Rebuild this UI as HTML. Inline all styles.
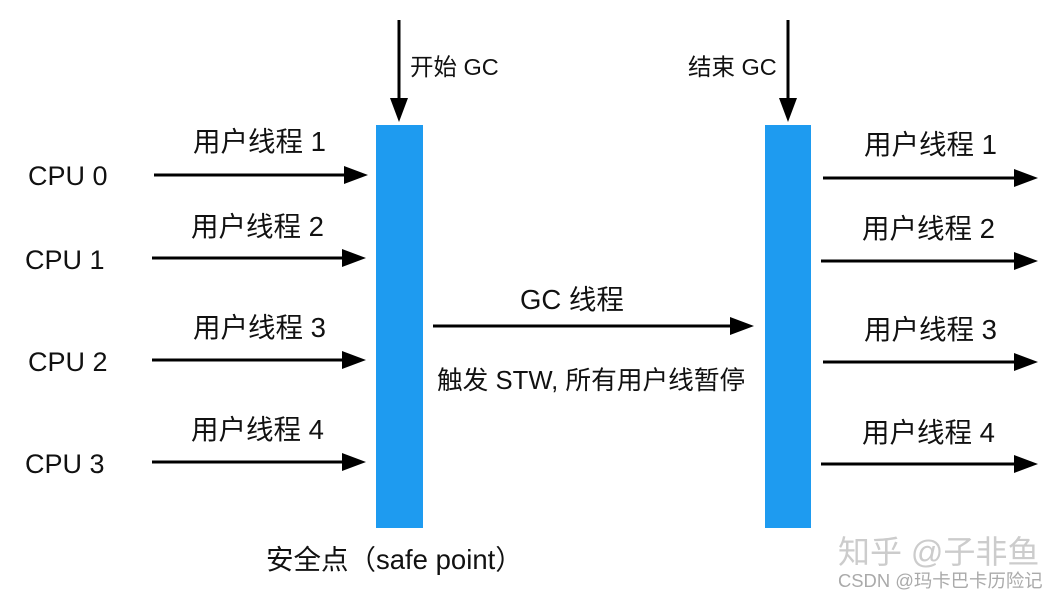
<!DOCTYPE html>
<html><head><meta charset="utf-8"><style>
html,body{margin:0;padding:0;background:#fff;}
svg text{font-family:"Liberation Sans","Noto Sans CJK SC",sans-serif;fill:#111;}
</style></head><body>
<svg width="1064" height="600" xmlns="http://www.w3.org/2000/svg">
<defs><marker id="a" markerWidth="8" markerHeight="6" refX="0" refY="3" orient="auto" markerUnits="strokeWidth"><path d="M0,0 L8,3 L0,6 z" fill="#000"/></marker></defs>
<rect x="376" y="125" width="47" height="403" fill="#1E9BF0"/>
<rect x="765" y="125" width="46" height="403" fill="#1E9BF0"/>
<g stroke="#000" stroke-width="3" marker-end="url(#a)">
<line x1="399" y1="20" x2="399" y2="98"/>
<line x1="788" y1="20" x2="788" y2="98"/>
<line x1="154" y1="175" x2="344" y2="175"/>
<line x1="152" y1="258" x2="342" y2="258"/>
<line x1="152" y1="360" x2="342" y2="360"/>
<line x1="152" y1="462" x2="342" y2="462"/>
<line x1="823" y1="178" x2="1014" y2="178"/>
<line x1="821" y1="261" x2="1014" y2="261"/>
<line x1="823" y1="362" x2="1014" y2="362"/>
<line x1="821" y1="464" x2="1014" y2="464"/>
<line x1="433" y1="326" x2="730" y2="326"/>
</g>
<g font-size="23.5">
<text x="410" y="75">开始 GC</text>
<text x="688" y="75">结束 GC</text>
</g>
<g font-size="27">
<text x="28" y="185">CPU 0</text>
<text x="25" y="269">CPU 1</text>
<text x="28" y="371">CPU 2</text>
<text x="25" y="473">CPU 3</text>
</g>
<g font-size="27.5">
<text x="193" y="151">用户线程 1</text>
<text x="191" y="236">用户线程 2</text>
<text x="193" y="337">用户线程 3</text>
<text x="191" y="439">用户线程 4</text>
<text x="864" y="154">用户线程 1</text>
<text x="862" y="238">用户线程 2</text>
<text x="864" y="339">用户线程 3</text>
<text x="862" y="442">用户线程 4</text>
<text x="520" y="309">GC 线程</text>
<text x="266" y="569">安全点（safe point）</text>
</g>
<text x="437" y="389" font-size="25.7">触发 STW, 所有用户线暂停</text>
<text x="838" y="563" font-size="32" style="fill:#ccc">知乎 @子非鱼</text>
<text x="838" y="587" font-size="18.4" style="fill:#aaa">CSDN @玛卡巴卡历险记</text>
</svg>
</body></html>
